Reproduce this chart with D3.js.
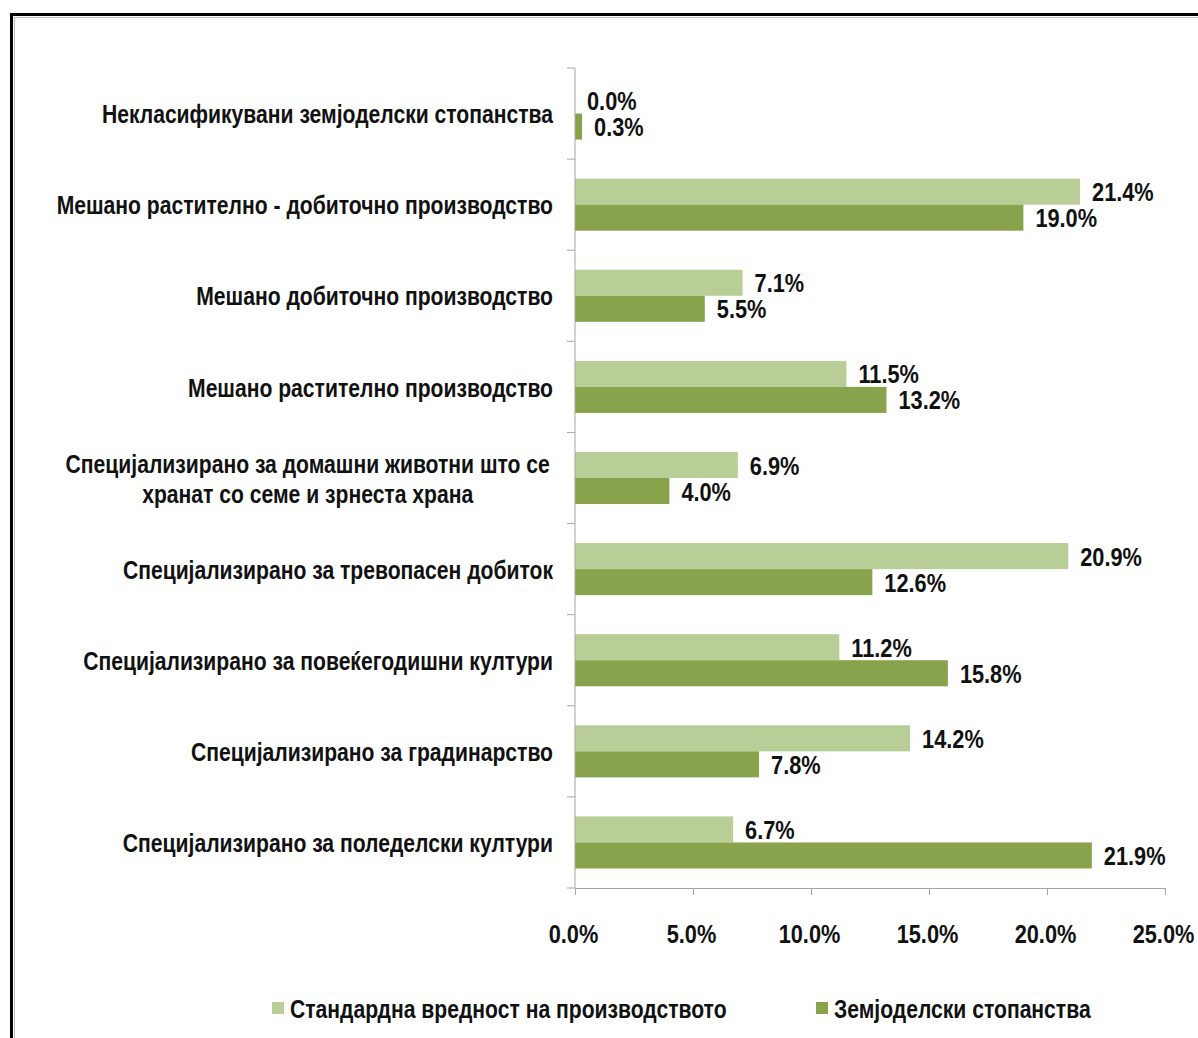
<!DOCTYPE html>
<html>
<head>
<meta charset="utf-8">
<script src="https://cdn.jsdelivr.net/npm/d3@7"></script>
<style>
  body { margin: 0; background: #fff; }
  svg text { font-family: "Liberation Sans", Arial, sans-serif; font-weight: bold; fill: #111; }
</style>
</head>
<body>
<script>
// categories, top to bottom
var categories = [
  'Некласификувани земјоделски стопанства',
  'Мешано растително - добиточно производство',
  'Мешано добиточно производство',
  'Мешано растително производство',
  'Специјализирано за домашни  животни што се|хранат со семе и зрнеста храна',
  'Специјализирано за тревопасен добиток',
  'Специјализирано за повеќегодишни култури',
  'Специјализирано за градинарство',
  'Специјализирано за поледелски култури'
];
var seriesNames = ['Стандардна вредност на производството', 'Земјоделски стопанства'];
var sovValues   = [0.0, 21.4, 7.1, 11.5, 6.9, 20.9, 11.2, 14.2, 6.7];
var farmValues  = [0.3, 19.0, 5.5, 13.2, 4.0, 12.6, 15.8, 7.8, 21.9];
var xTicks = [0, 5, 10, 15, 20, 25];
var colors = ['#b9cd96', '#88a34c'];

var narrow = 0.845;   // Arial Narrow look
var narrowNum = 0.87;
var fs = 25;

var svg = d3.select('body')
            .append('svg')
            .attr('width', 1198)
            .attr('height', 1038);

// frame
svg.append('rect')
    .attr('x', 11.5).attr('y', 14.5)
    .attr('width', 1300).attr('height', 1100)
    .attr('fill', 'none')
    .attr('stroke', '#000')
    .attr('stroke-width', 3);
svg.append('rect')
    .attr('x', 14.5).attr('y', 17.5)
    .attr('width', 1300).attr('height', 1100)
    .attr('fill', 'none')
    .attr('stroke', '#bbb')
    .attr('stroke-width', 1);

function place(px, py, k){ return 'translate(' + px + ',' + py + ') scale(' + (k || narrow) + ',1)'; }

var x = d3.scaleLinear().domain([0, 25]).range([575, 1165]);
var y = d3.scaleBand().domain(d3.range(categories.length)).range([68, 888]).paddingInner(0);
var ySub = d3.scaleBand().domain([0, 1]).range([0, y.bandwidth()]).paddingOuter(0.75);

var rows = categories.map(function(c, i){ return {i: i, vals: [sovValues[i], farmValues[i]]}; });

var groups = svg.selectAll('g.row')
    .data(rows)
    .enter().append('g')
        .attr('class', 'row')
        .attr('transform', function(d){ return 'translate(0,' + y(d.i) + ')'; });

groups.selectAll('rect')
    .data(function(d){ return d.vals.map(function(v, s){ return {v: v, s: s}; }); })
    .enter().append('rect')
        .attr('x', x(0))
        .attr('y', function(d){ return ySub(d.s); })
        .attr('width', function(d){ return x(d.v) - x(0); })
        .attr('height', ySub.bandwidth())
        .attr('fill', function(d){ return colors[d.s]; });

groups.selectAll('text.val')
    .data(function(d){ return d.vals.map(function(v, s){ return {v: v, s: s}; }); })
    .enter().append('text')
        .attr('class', 'val')
        .attr('transform', function(d){ return place(x(d.v) + 12, ySub(d.s) + ySub.bandwidth() / 2 + 1, narrowNum); })
        .attr('dominant-baseline', 'central')
        .attr('font-size', fs)
        .text(function(d){ return d3.format('.1f')(d.v) + '%'; });

// category labels
var labelRight = 553;
groups.each(function(d){
    var g = d3.select(this);
    var parts = categories[d.i].split('|');
    var texts = parts.map(function(p, k){
        return g.append('text')
            .attr('dominant-baseline', 'central')
            .attr('font-size', fs)
            .text(p);
    });
    if (parts.length === 1) {
        texts[0].attr('text-anchor', 'end')
            .attr('transform', place(labelRight, y.bandwidth() / 2 + 1));
    } else {
        var w = texts[0].node().getComputedTextLength() * narrow;
        var cx = labelRight - 3 - w / 2;
        texts.forEach(function(t, k){
            t.attr('text-anchor', 'middle')
             .attr('transform', place(cx, y.bandwidth() / 2 + 1 + (k - (parts.length - 1) / 2) * 30));
        });
    }
});

// vertical category axis
var axisColor = '#a6a6a6';
svg.append('line')
    .attr('x1', x(0)).attr('x2', x(0))
    .attr('y1', 68).attr('y2', 888)
    .attr('stroke', axisColor);
svg.selectAll('line.ytick')
    .data(d3.range(categories.length + 1))
    .enter().append('line')
        .attr('class', 'ytick')
        .attr('x1', x(0) - 8).attr('x2', x(0))
        .attr('y1', function(d){ return d < categories.length ? y(d) : 888; })
        .attr('y2', function(d){ return d < categories.length ? y(d) : 888; })
        .attr('stroke', axisColor);

// value axis
var xAxis = d3.axisBottom(x)
    .tickValues(xTicks)
    .tickSizeInner(7)
    .tickSizeOuter(0)
    .tickFormat(function(d){ return d3.format('.1f')(d) + '%'; });
var gx = svg.append('g')
    .attr('transform', 'translate(0,888)')
    .call(xAxis);
gx.select('.domain').attr('stroke', axisColor);
gx.selectAll('.tick line').attr('stroke', axisColor);
gx.selectAll('.tick text')
    .attr('font-size', fs)
    .attr('font-family', null)
    .attr('fill', '#111')
    .attr('y', null).attr('dy', null)
    .attr('dominant-baseline', 'central')
    .attr('transform', place(-2, 46, narrowNum));

// legend
var legendX = [272, 816];
var legend = svg.selectAll('g.legend')
    .data(seriesNames)
    .enter().append('g')
        .attr('class', 'legend')
        .attr('transform', function(d, i){ return 'translate(' + legendX[i] + ',1008)'; });
legend.append('rect')
    .attr('x', 0).attr('y', -6)
    .attr('width', 12).attr('height', 12)
    .attr('fill', function(d, i){ return colors[i]; });
legend.append('text')
    .attr('transform', place(18, 1))
    .attr('dominant-baseline', 'central')
    .attr('font-size', fs)
    .text(function(d){ return d; });
</script>
</body>
</html>
